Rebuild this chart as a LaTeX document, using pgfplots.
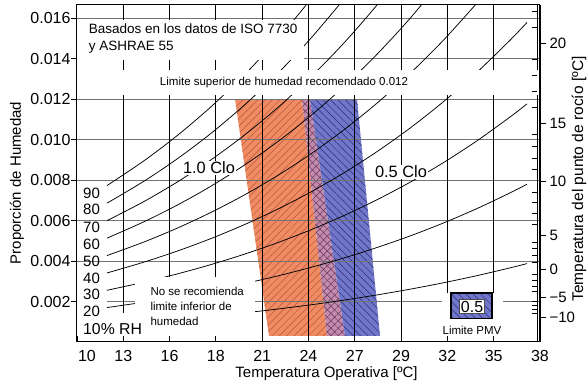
\documentclass[border=0pt]{standalone}
\usepackage{fontspec}
\setmainfont{Liberation Sans}
\usepackage{pgfplots}
\pgfplotsset{compat=1.18}
\usetikzlibrary{patterns.meta}
\definecolor{orF}{RGB}{240,140,100}
\definecolor{orH}{RGB}{185,85,55}
\definecolor{blF}{RGB}{112,118,200}
\definecolor{blH}{RGB}{45,45,125}
\definecolor{pkF}{RGB}{196,140,172}
\definecolor{pkH}{RGB}{100,55,95}
\newcommand{\fs}[1]{\fontsize{#1}{#1}\selectfont}
\begin{document}
\begin{tikzpicture}
\path[use as bounding box] (-77pt,-45pt) rectangle (510pt,342pt);
\begin{axis}[name=main, at={(0,0)}, anchor=south west,
  scale only axis, width=463pt, height=337pt,
  xmin=10, xmax=37.778, ymin=0, ymax=0.01665,
  clip mode=individual, axis on top,
  axis line style={line width=1pt},
  xtick={10,12.778,15.556,18.333,21.111,23.889,26.667,29.444,32.222,35,37.778},
  xticklabels={\hspace*{20pt}10,13,16,18,21,24,27,29,32,35,38},
  xtick pos=bottom, xtick align=inside,
  ytick={0.002,0.004,0.006,0.008,0.010,0.012,0.014,0.016},
  yticklabels={0.002,0.004,0.006,0.008,0.010,0.012,0.014,0.016},
  ytick pos=left, ytick align=outside,
  scaled y ticks=false, major tick length=6pt,
  tick style={black, line width=0.9pt},
  /pgf/number format/assume math mode=true,
  xticklabel style={font=\fs{16}, yshift=-5pt},
  yticklabel style={font=\fs{16}, xshift=3pt},
]
% comfort zones
\addplot[draw=none, fill=orF] coordinates {(19.48,0.012) (23.50,0.012) (25.00,0.0003) (21.52,0.0003)} -- cycle;
\addplot[draw=none, pattern={Lines[angle=45,distance=5.2pt,line width=0.5pt]}, pattern color=orH] coordinates {(19.48,0.012) (23.50,0.012) (25.00,0.0003) (21.52,0.0003)} -- cycle;
\addplot[draw=none, fill=pkF] coordinates {(23.50,0.012) (23.98,0.012) (26.08,0.0003) (25.00,0.0003)} -- cycle;
\addplot[draw=none, pattern={Lines[angle=45,distance=5.2pt,line width=0.5pt]}, pattern color=pkH] coordinates {(23.50,0.012) (23.98,0.012) (26.08,0.0003) (25.00,0.0003)} -- cycle;
\addplot[draw=none, pattern={Lines[angle=-45,distance=5.2pt,line width=0.5pt]}, pattern color=pkH] coordinates {(23.50,0.012) (23.98,0.012) (26.08,0.0003) (25.00,0.0003)} -- cycle;
\addplot[draw=none, fill=blF] coordinates {(23.98,0.012) (26.80,0.012) (28.18,0.0003) (26.08,0.0003)} -- cycle;
\addplot[draw=none, pattern={Lines[angle=-45,distance=5.2pt,line width=0.5pt]}, pattern color=blH] coordinates {(23.98,0.012) (26.80,0.012) (28.18,0.0003) (26.08,0.0003)} -- cycle;
% horizontal grid lines
\addplot[black!55, line width=0.9pt] coordinates {(11.8,0.002) (37.778,0.002)};
\addplot[black!55, line width=0.9pt] coordinates {(10,0.004) (37.778,0.004)};
\addplot[black!55, line width=0.9pt] coordinates {(10,0.006) (37.778,0.006)};
\addplot[black!55, line width=0.9pt] coordinates {(10,0.008) (37.778,0.008)};
\addplot[black!55, line width=0.9pt] coordinates {(10,0.010) (37.778,0.010)};
\addplot[black!55, line width=0.9pt] coordinates {(10,0.012) (37.778,0.012)};
\addplot[black!55, line width=0.9pt] coordinates {(23.6,0.014) (37.778,0.014)};
\addplot[black!55, line width=0.9pt] coordinates {(10,0.016) (37.778,0.016)};
% vertical grid lines
\addplot[black, line width=1pt] coordinates {(12.778,0) (12.778,0.01665)};
\addplot[black, line width=1pt] coordinates {(15.556,0) (15.556,0.01665)};
\addplot[black, line width=1pt] coordinates {(18.333,0) (18.333,0.01665)};
\addplot[black, line width=1pt] coordinates {(21.111,0) (21.111,0.01665)};
\addplot[black, line width=1pt] coordinates {(23.889,0) (23.889,0.01665)};
\addplot[black, line width=1pt] coordinates {(26.667,0) (26.667,0.01665)};
\addplot[black, line width=1pt] coordinates {(29.444,0) (29.444,0.01665)};
\addplot[black, line width=1pt] coordinates {(32.222,0) (32.222,0.01665)};
\addplot[black, line width=1pt] coordinates {(35,0) (35,0.01665)};
\addplot[black, line width=0.8pt] coordinates {(37.6,0) (37.6,0.01665)};
% relative humidity curves
\addplot[black, line width=0.75pt, smooth] coordinates {(11.8,.007729) (14,.008942) (16,.010190) (18,.011592) (20,.013166) (22,.014927) (24,.016900)};
\addplot[black, line width=0.75pt, smooth] coordinates {(11.8,.006860) (14,.007935) (16,.009041) (18,.010282) (20,.011675) (22,.013233) (24,.014977) (26,.016926)};
\addplot[black, line width=0.75pt, smooth] coordinates {(11.8,.005995) (14,.006932) (16,.007897) (18,.008978) (20,.010192) (22,.011548) (24,.013066) (26,.014760) (28,.016650) (30,.018755)};
\addplot[black, line width=0.75pt, smooth] coordinates {(11.8,.00513) (14,.005933) (16,.006757) (18,.007680) (20,.008716) (22,.009872) (24,.011166) (26,.012608) (28,.014217) (30,.016006) (32,.017996)};
\addplot[black, line width=0.75pt, smooth] coordinates {(11.8,.00427) (14,.004936) (16,.005620) (18,.006387) (20,.007246) (22,.008205) (24,.009277) (26,.010472) (28,.011802) (30,.013282) (32,.014925) (34,.016749)};
\addplot[black, line width=0.75pt, smooth] coordinates {(11.8,.003411) (14,.003942) (16,.004488) (18,.005099) (20,.005783) (22,.006547) (24,.007400) (26,.008349) (28,.009406) (30,.010580) (32,.011883) (34,.013327) (36,.014927) (37,.015789)};
\addplot[black, line width=0.75pt, smooth] coordinates {(11.8,.002555) (14,.002952) (16,.003360) (18,.003816) (20,.004327) (22,.004897) (24,.005533) (26,.006241) (28,.007028) (30,.007901) (32,.008870) (34,.009942) (36,.011128) (37,.011767)};
\addplot[black, line width=0.75pt, smooth] coordinates {(11.8,.001701) (14,.001965) (16,.002236) (18,.002539) (20,.002878) (22,.003256) (24,.003678) (26,.004147) (28,.004668) (30,.005245) (32,.005885) (34,.006593) (36,.007375) (37,.007796)};
\addplot[black, line width=0.75pt, smooth] coordinates {(11.8,.000849) (14,.000981) (16,.001116) (18,.001267) (20,.001436) (22,.001624) (24,.001834) (26,.002066) (28,.002325) (30,.002612) (32,.002929) (34,.003279) (36,.003666) (37,.003874)};
% white boxes
\addplot[draw=none, fill=white] coordinates {(10.05,0.01395) (23.6,0.01395) (23.6,0.0159) (10.05,0.0159)} -- cycle;
\addplot[draw=none, fill=white] coordinates {(10.05,0.01222) (37.7,0.01222) (37.7,0.01343) (10.05,0.01343)} -- cycle;
\addplot[draw=none, fill=white] coordinates {(13.48,0.00005) (20.68,0.00005) (20.68,0.00321) (13.48,0.00321)} -- cycle;
\addplot[draw=none, fill=white] coordinates {(10.05,0.00005) (13.9,0.00005) (13.9,0.00143) (10.05,0.00143)} -- cycle;
\addplot[draw=none, fill=white] coordinates {(31.9,0.00005) (35.55,0.00005) (35.55,0.0024) (31.9,0.0024)} -- cycle;
% PMV 0.5 box
\addplot[draw=none, fill=blF] coordinates {(32.44,0.00118) (34.9,0.00118) (34.9,0.00242) (32.44,0.00242)} -- cycle;
\addplot[draw=black, line width=1.1pt, pattern={Lines[angle=-45,distance=5.2pt,line width=0.5pt]}, pattern color=blH] coordinates {(32.44,0.00118) (34.9,0.00118) (34.9,0.00242) (32.44,0.00242)} -- cycle;
% right-scale minor ticks
\addplot[only marks, mark=-, mark size=2.4pt, black, line width=0.5pt] coordinates {(37.46,0.016346) (37.46,0.015556) (37.46,0.013975) (37.46,0.013185) (37.46,0.012395) (37.46,0.011605) (37.46,0.010242) (37.46,0.009669) (37.46,0.009096) (37.46,0.008523) (37.46,0.007417) (37.46,0.006884) (37.46,0.006351) (37.46,0.005817) (37.46,0.004948) (37.46,0.004612) (37.46,0.004277) (37.46,0.003941) (37.46,0.003328) (37.46,0.003052) (37.46,0.002775) (37.46,0.002499) (37.46,0.002025) (37.46,0.001827) (37.46,0.001630) (37.46,0.001432)};
% texts
\node[anchor=west, align=left, font=\fontsize{13.5}{17}\selectfont] at (axis cs:10.5,0.014988) {Basados en los datos de ISO 7730\\y ASHRAE 55};
\node[font=\fs{11.5}] at (axis cs:22.42,0.01284) {Limite superior de humedad recomendado 0.012};
\node[fill=white, inner sep=1pt, font=\fs{16.4}] at (axis cs:17.92,0.00859) {1.0 Clo};
\node[fill=white, inner sep=1pt, font=\fs{16.4}] at (axis cs:29.44,0.0084) {0.5 Clo};
\node[anchor=west, inner sep=0pt, font=\fs{15}] at (axis cs:10.36,0.007358) {90};
\node[anchor=west, inner sep=0pt, font=\fs{15}] at (axis cs:10.36,0.006568) {80};
\node[anchor=west, inner sep=0pt, font=\fs{15}] at (axis cs:10.36,0.005679) {70};
\node[anchor=west, inner sep=0pt, font=\fs{15}] at (axis cs:10.36,0.00484) {60};
\node[anchor=west, inner sep=0pt, font=\fs{15}] at (axis cs:10.36,0.004) {50};
\node[anchor=west, inner sep=0pt, font=\fs{15}] at (axis cs:10.36,0.00316) {40};
\node[anchor=west, inner sep=0pt, font=\fs{15}] at (axis cs:10.36,0.00237) {30};
\node[anchor=west, inner sep=0pt, font=\fs{15}] at (axis cs:10.36,0.001531) {20};
\node[anchor=west, inner sep=0pt, font=\fs{15.8}] at (axis cs:10.36,0.000642) {10\% RH};
\node[anchor=west, align=left, font=\fontsize{11.5}{15}\selectfont] at (axis cs:14.2,0.001778) {No se recomienda\\limite inferior de\\humedad};
\node[font=\fs{11.5}] at (axis cs:33.7,0.00059) {Limite PMV};
\node[fill=white, draw=black!70, line width=0.6pt, inner sep=1.2pt, font=\fs{16}] at (axis cs:33.7,0.00175) {0.5};
\node[rotate=90, font=\fs{15}] at (axis description cs:-0.1296,0.472) {Proporción de Humedad};
\node[rotate=90, font=\fs{15.5}] at (axis description cs:1.0842,0.484) {Temperatura del punto de rocío [ºC]};
\node[font=\fs{15}] at (axis description cs:0.539,0) [yshift=-32pt] {Temperatura Operativa [ºC]};
\end{axis}
\begin{axis}[at={(0,0)}, anchor=south west,
  scale only axis, width=463pt, height=337pt,
  xmin=10, xmax=37.778, ymin=0, ymax=0.01665,
  hide x axis, axis y line*=right,
  axis line style={line width=1pt},
  ytick={0.001235,0.002222,0.003605,0.005284,0.007951,0.010815,0.014765},
  yticklabels={−10,−5,0,5,10,15,20},
  ytick align=outside, major tick length=6pt,
  tick style={black, line width=0.9pt},
  yticklabel style={font=\fs{15}},
  scaled y ticks=false,
]
\addplot[draw=none] coordinates {(10,0.001) (37,0.015)};
\end{axis}
\end{tikzpicture}
\end{document}
